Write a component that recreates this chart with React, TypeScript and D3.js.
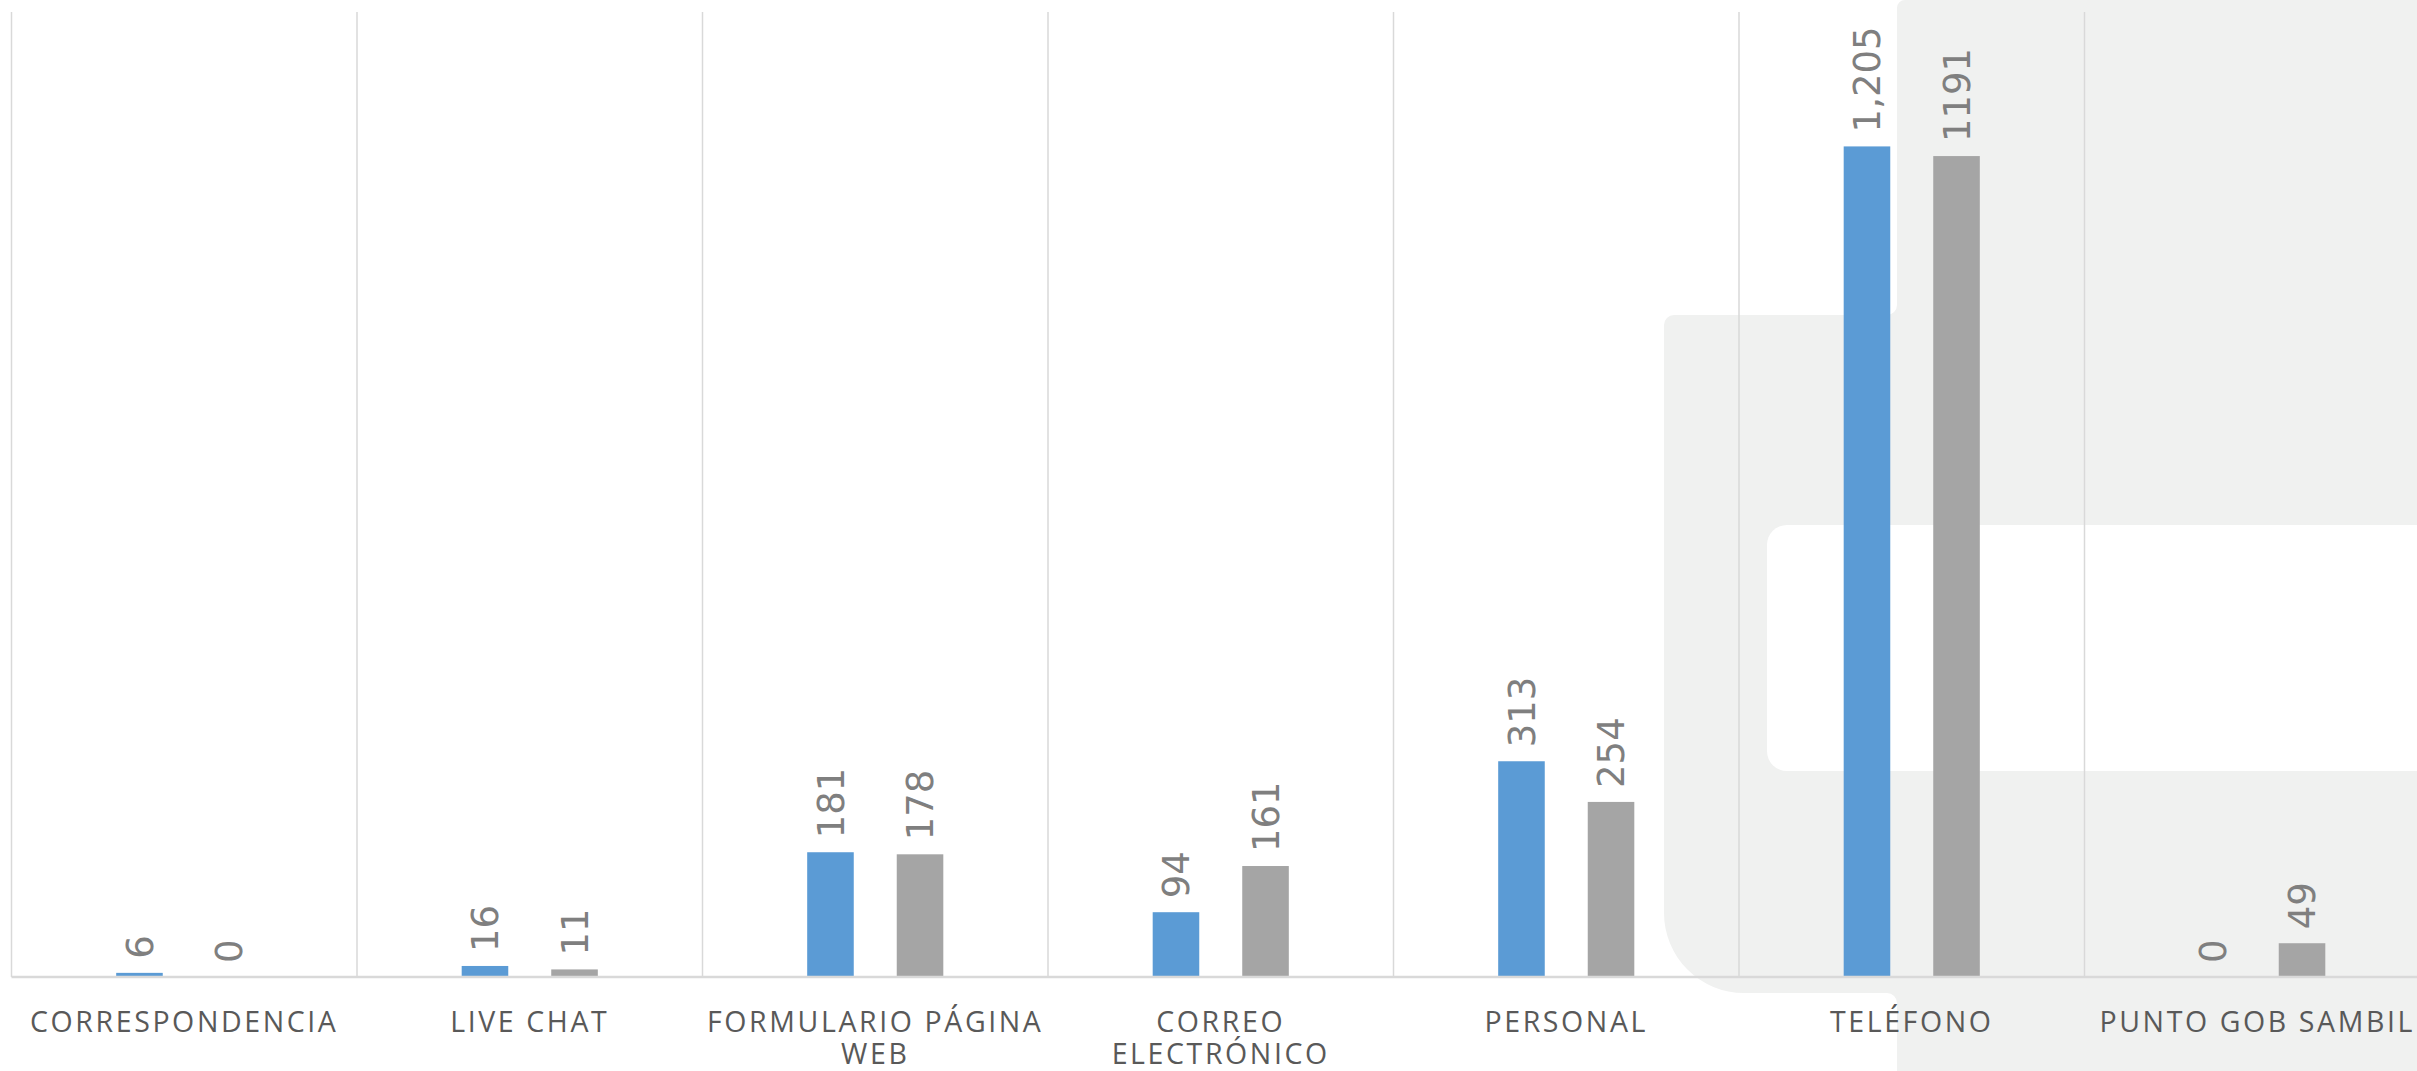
import { useEffect, useRef } from 'react'
import * as d3 from 'd3'

const categories = [
  'CORRESPONDENCIA',
  'LIVE CHAT',
  'FORMULARIO PÁGINA WEB',
  'CORREO ELECTRÓNICO',
  'PERSONAL',
  'TELÉFONO',
  'PUNTO GOB SAMBIL',
]
const seriesKeys = ['blue', 'gray']
const blueValues = [6, 16, 181, 94, 313, 1205, 0]
const grayValues = [0, 11, 178, 161, 254, 1191, 49]
const yDomain = [0, 1400]

const WIDTH = 2417
const HEIGHT = 1071

export default function App() {
  const svgRef = useRef<SVGSVGElement>(null)

  useEffect(() => {
    if (!svgRef.current) return
    const svg = d3.select(svgRef.current)
    svg.selectAll('*').remove()

    const margin = { top: 12, left: 11.5, bottom: 977 }
    const step = 345.5

    const x0 = d3.scaleBand<string>()
      .domain(categories)
      .range([margin.left, margin.left + step * categories.length])
      .padding(0)

    const bw = x0.bandwidth()
    const x1 = d3.scaleBand<string>()
      .domain(seriesKeys)
      .range([bw * 0.303, bw * 0.697])
      .paddingInner(0.48)

    const y = d3.scaleLinear()
      .domain(yDomain)
      .range([margin.bottom, margin.top])

    // background decoration
    const bg = svg.append('g')
    bg.append('path')
      .attr('d', 'M1905,0 L2440,0 L2440,1071 L1897,1071 L1897,1003 A10,10 0 0 0 1887,993 L1744,993 A80,80 0 0 1 1664,913 L1664,325 A10,10 0 0 1 1674,315 L1887,315 A10,10 0 0 0 1897,305 L1897,8 A8,8 0 0 1 1905,0 Z')
      .attr('fill', '#f0f1f0')
    bg.append('rect')
      .attr('x', 1767)
      .attr('y', 525)
      .attr('width', 700)
      .attr('height', 246)
      .attr('rx', 20)
      .attr('fill', '#ffffff')

    // vertical grid lines at category boundaries
    const bounds = categories.map(c => x0(c)!).concat([x0.range()[1]])
    svg.append('g')
      .selectAll('line')
      .data(bounds)
      .join('line')
      .attr('x1', d => d)
      .attr('x2', d => d)
      .attr('y1', y(yDomain[1]))
      .attr('y2', y(0))
      .attr('stroke', '#d9d9d9')
      .attr('stroke-width', 1.5)

    // bars
    const rows = categories.map((c, i) => ({
      cat: c,
      values: [
        { key: 'blue', value: blueValues[i], color: '#5b9bd5', label: d3.format(',')(blueValues[i]) },
        { key: 'gray', value: grayValues[i], color: '#a5a5a5', label: String(grayValues[i]) },
      ],
    }))

    const groups = svg.append('g')
      .selectAll('g')
      .data(rows)
      .join('g')
      .attr('transform', d => `translate(${x0(d.cat)},0)`)

    groups.selectAll('rect')
      .data(d => d.values)
      .join('rect')
      .attr('x', d => x1(d.key)!)
      .attr('y', d => y(d.value))
      .attr('width', x1.bandwidth())
      .attr('height', d => y(0) - y(d.value))
      .attr('fill', d => d.color)

    groups.selectAll('text')
      .data(d => d.values)
      .join('text')
      .attr('transform', d => `translate(${x1(d.key)! + x1.bandwidth() / 2},${y(d.value) - 14}) rotate(-90)`)
      .attr('dy', '0.36em')
      .attr('text-anchor', 'start')
      .style('font-family', 'DejaVu Sans, sans-serif')
      .style('font-size', '37px')
      .style('fill', '#7f7f7f')
      .text(d => d.label)

    // baseline
    svg.append('line')
      .attr('x1', x0.range()[0])
      .attr('x2', x0.range()[1])
      .attr('y1', y(0))
      .attr('y2', y(0))
      .attr('stroke', '#d9d9d9')
      .attr('stroke-width', 2.5)

    // category labels, wrapped to fit the band
    const labels = svg.append('g')
      .selectAll('text')
      .data(categories)
      .join('text')
      .attr('x', d => x0(d)! + bw / 2)
      .attr('y', 1032)
      .attr('text-anchor', 'middle')
      .style('font-family', 'Open Sans, sans-serif')
      .style('font-size', '28.5px')
      .style('letter-spacing', '2.6px')
      .style('fill', '#595959')

    labels.each(function (d) {
      const text = d3.select(this)
      const words = d.split(' ')
      let line: string[] = []
      let tspan = text.append('tspan').attr('x', x0(d)! + bw / 2).attr('dy', 0)
      words.forEach(word => {
        line.push(word)
        tspan.text(line.join(' '))
        if ((tspan.node() as SVGTSpanElement).getComputedTextLength() > bw - 4 && line.length > 1) {
          line.pop()
          tspan.text(line.join(' '))
          line = [word]
          tspan = text.append('tspan')
            .attr('x', x0(d)! + bw / 2)
            .attr('dy', 32)
            .text(word)
        }
      })
    })
  }, [])

  return (
    <svg
      ref={svgRef}
      width={WIDTH}
      height={HEIGHT}
      style={{ position: 'absolute', left: 0, top: 0, display: 'block', background: '#ffffff' }}
    />
  )
}
